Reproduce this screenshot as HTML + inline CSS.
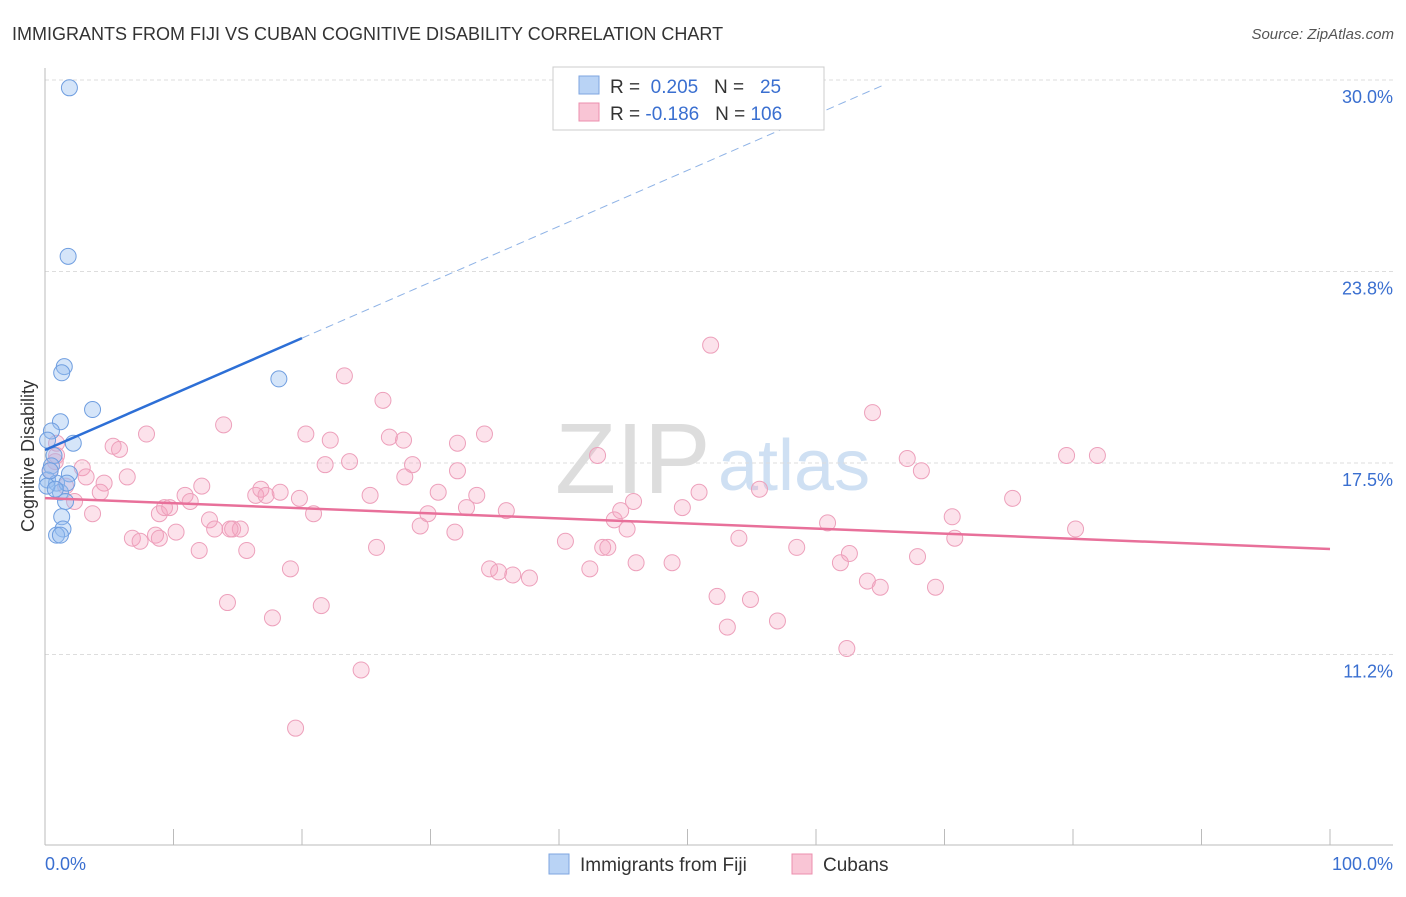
<!DOCTYPE html>
<html><head><meta charset="utf-8"><style>
body{margin:0;background:#fff;font-family:"Liberation Sans",sans-serif}
svg text{font-family:"Liberation Sans",sans-serif}
</style></head><body>
<svg id="c" width="1406" height="892" xmlns="http://www.w3.org/2000/svg">
<text x="12" y="40" font-size="18" fill="#333">IMMIGRANTS FROM FIJI VS CUBAN COGNITIVE DISABILITY CORRELATION CHART</text>
<text x="1394" y="39" font-size="15" fill="#555" text-anchor="end" font-style="italic">Source: ZipAtlas.com</text>
<text x="555" y="493" font-size="100" fill="#ddd" font-family="Liberation Serif">ZIP</text>
<text x="718" y="490" font-size="72" fill="#cfe0f3">atlas</text>
<g id="grid"></g><g id="axes"></g><g id="pts"></g><g id="trend"></g>
<text transform="translate(34,456) rotate(-90)" font-size="18" fill="#333" text-anchor="middle">Cognitive Disability</text>
<text x="45" y="870" font-size="18" fill="#3a6fd0">0.0%</text>
<text x="1393" y="870" font-size="18" fill="#3a6fd0" text-anchor="end">100.0%</text>
<g>
<rect x="553" y="67" width="271" height="63" fill="#fff" stroke="#ccc"/>
<rect x="579" y="76" width="20" height="18" fill="#b9d3f5" stroke="#7ea6e0"/>
<rect x="579" y="103" width="20" height="18" fill="#f9c5d5" stroke="#ec8fae"/>
<text x="610" y="93" font-size="19" fill="#333">R = <tspan fill="#3a6fd0">&#160;0.205</tspan>&#160;&#160;&#160;N = <tspan fill="#3a6fd0">&#160;&#160;25</tspan></text>
<text x="610" y="120" font-size="19" fill="#333">R = <tspan fill="#3a6fd0">-0.186</tspan>&#160;&#160;&#160;N = <tspan fill="#3a6fd0">106</tspan></text>
</g>
<g>
<rect x="549" y="854" width="20" height="20" fill="#b9d3f5" stroke="#7ea6e0"/>
<text x="580" y="871" font-size="19" fill="#333">Immigrants from Fiji</text>
<rect x="792" y="854" width="20" height="20" fill="#f9c5d5" stroke="#ec8fae"/>
<text x="823" y="871" font-size="19" fill="#333">Cubans</text>
</g>
</svg>
<script>
const yTicks=[30.0,23.75,17.5,11.25];
const yTickLabels=["30.0%","23.8%","17.5%","11.2%"];
const fijiX=[1.9,1.8,1.5,1.3,18.2,3.7,1.2,2.2,0.5,0.2,0.7,0.5,1.9,0.2,0.9,1.2,1.7,1.6,1.3,1.4,0.9,1.2,0.15,0.4,0.8];
const fijiY=[30.3,24.8,21.2,21.0,20.8,19.8,19.4,18.7,19.1,18.8,18.3,17.96,17.7,17.5,17.4,17.1,17.4,16.8,16.3,15.9,15.7,15.7,17.3,17.8,17.2];
const cubaX=[0.9,0.8,0.4,2.9,3.2,1.6,2.3,3.7,4.6,4.3,5.3,5.8,6.4,7.9,6.8,7.4,8.6,8.9,9.3,9.7,10.2,10.9,11.3,12.0,12.2,12.8,13.2,13.9,14.2,14.6,15.2,15.7,16.4,16.8,17.2,17.7,18.3,19.1,19.8,20.3,20.9,21.5,21.8,22.2,23.3,23.7,24.6,25.3,25.8,26.3,26.8,27.9,28.0,28.6,29.2,29.8,30.6,31.9,32.1,32.1,32.8,33.6,34.2,34.6,35.3,35.9,36.4,37.7,40.5,42.4,43.0,43.4,43.8,44.3,44.8,45.3,45.8,46.0,48.8,49.6,50.9,51.8,52.3,53.1,54.0,54.9,55.6,57.0,58.5,60.9,61.9,62.4,62.6,64.0,64.4,65.0,67.1,67.9,68.2,69.3,70.6,70.8,75.3,79.5,80.2,81.9,19.5,14.4,8.9,0.9];
const cubaY=[18.7,18.1,17.8,17.9,17.6,17.3,16.8,16.4,17.4,17.1,18.6,18.5,17.6,19.0,15.6,15.5,15.7,16.4,16.6,16.6,15.8,17.0,16.8,15.2,17.3,16.2,15.9,19.3,13.5,15.9,15.9,15.2,17.0,17.2,17.0,13.0,17.1,14.6,16.9,19.0,16.4,13.4,18.0,18.8,20.9,18.1,11.3,17.0,15.3,20.1,18.9,18.8,17.6,18.0,16.0,16.4,17.1,15.8,17.8,18.7,16.6,17.0,19.0,14.6,14.5,16.5,14.4,14.3,15.5,14.6,18.3,15.3,15.3,16.2,16.5,15.9,16.8,14.8,14.8,16.6,17.1,21.9,13.7,12.7,15.6,13.6,17.2,12.9,15.3,16.1,14.8,12.0,15.1,14.2,19.7,14.0,18.2,15.0,17.8,14.0,16.3,15.6,16.9,18.3,15.9,18.3,9.4,15.9,15.6,18.3];
const fijiTrend=[18.48,0.1825];
const cubaTrend=[16.91,-0.0166];
const NS="http://www.w3.org/2000/svg";
const xS=v=>45+v*12.85;
const yS=v=>97+(30-v)*30.64;
function mk(t,a,p){const e=document.createElementNS(NS,t);for(const k in a)e.setAttribute(k,a[k]);document.getElementById(p).appendChild(e);return e;}
yTicks.forEach((t,i)=>{
 const l=mk('line',{x1:45,x2:1393,y1:yS(t)-17,y2:yS(t)-17,stroke:'#ddd','stroke-dasharray':'4 3'},'grid');
 
 
 const tx=mk('text',{x:1393,y:yS(t)+6,'font-size':18,fill:'#3a6fd0','text-anchor':'end'},'grid');
 tx.textContent=yTickLabels[i];
 
 
});
const ax=mk('line',{x1:45,x2:1393,y1:845,y2:845,stroke:'#bbb'},'axes');


const ay=mk('line',{x1:45,x2:45,y1:68,y2:845,stroke:'#bbb'},'axes');


for(let i=1;i<=10;i++){const t=mk('line',{x1:xS(i*10),x2:xS(i*10),y1:829,y2:845,stroke:'#bbb'},'axes');
 
 }
cubaX.forEach((x,i)=>{const c=mk('circle',{cx:xS(x),cy:yS(cubaY[i]),r:8,fill:'rgba(244,160,190,0.3)',stroke:'#eda0bb','stroke-width':1},'pts');
 
 });
fijiX.forEach((x,i)=>{const c=mk('circle',{cx:xS(x),cy:yS(fijiY[i]),r:8,fill:'rgba(150,190,240,0.4)',stroke:'#6f9ee0','stroke-width':1},'pts');
 
 });
const f=v=>fijiTrend[0]+fijiTrend[1]*v, g=v=>cubaTrend[0]+cubaTrend[1]*v;
let l1=mk('line',{x1:xS(0),y1:yS(f(0)),x2:xS(20),y2:yS(f(20)),stroke:'#2d6fd6','stroke-width':2.5},'trend');


let l2=mk('line',{x1:xS(20),y1:yS(f(20)),x2:xS(65.4),y2:yS(f(65.4)),stroke:'#8fb3e6','stroke-width':1,'stroke-dasharray':'8 5'},'trend');


let l3=mk('line',{x1:xS(0),y1:yS(g(0)),x2:xS(100),y2:yS(g(100)),stroke:'#e8709a','stroke-width':2.5},'trend');


</script>
</body></html>
